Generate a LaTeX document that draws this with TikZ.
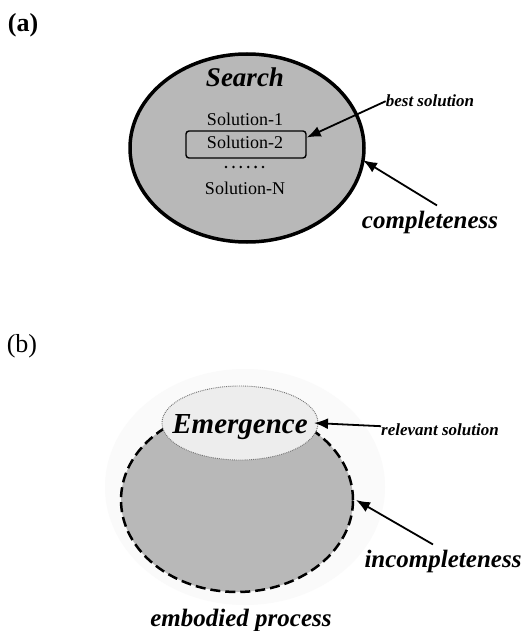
\documentclass[tikz,border=0pt]{standalone}
\usepackage{fontspec}
\setmainfont{Liberation Serif}
\usetikzlibrary{shapes.geometric,arrows.meta}
\begin{document}
\begin{tikzpicture}[x=1pt,y=-1pt,
  lbl/.style={inner sep=0pt,anchor=base,font=\fontsize{26}{28}\selectfont},
  bigbi/.style={inner sep=0pt,anchor=base,font=\fontsize{25}{28}\selectfont\bfseries\itshape},
  smallbi/.style={inner sep=0pt,anchor=base,font=\fontsize{17}{19}\selectfont\bfseries\itshape},
  soltext/.style={inner sep=0pt,anchor=base,font=\fontsize{18}{20}\selectfont},
  arr/.style={line width=1.8pt,-{Latex[length=14pt,width=11pt]}},
  oval/.style={ellipse,inner sep=0pt,outer sep=0pt},
  dotmark/.style={circle,fill=black,inner sep=0pt,minimum size=2.8pt}
]
\useasboundingbox (0,0) rectangle (524,631);
\fill[white] (0,0) rectangle (524,631);

% ---------- (a) ----------
\node[lbl,font=\fontsize{26}{28}\selectfont\bfseries] (la) at (23,32) {(a)};
\node[oval,draw,line width=3.5pt,fill=black!28,minimum width=234pt,minimum height=188pt] (ellA) at (247,148) {};
\node[inner sep=0pt,anchor=base,font=\fontsize{27}{30}\selectfont\bfseries\itshape] (search) at (245,87) {Search};
\node[soltext] (s1) at (245,126) {Solution-1};
\node[draw,line width=1.4pt,rounded corners=3pt,minimum width=120pt,minimum height=27pt,inner sep=0pt] (box) at (246,144.5) {};
\node[soltext] (s2) at (245,148.5) {Solution-2};
\foreach \i/\xx in {1/226,2/233.4,3/240.8,4/248.2,5/255.6,6/263}
  \node[dotmark] (d\i) at (\xx,167) {};
\node[soltext] (sn) at (245,194) {Solution-N};
\node[smallbi] (best) at (430,107) {best solution};
\node[bigbi] (comp) at (430,228) {completeness};
\draw[arr] (best.west) -- ([yshift=7pt]box.east);
\draw[arr] ([shift={(7pt,5pt)}]comp.north) -- (ellA.-6);

% ---------- (b) ----------
\node[lbl] (lb) at (22,352) {(b)};
\fill[black!2] (245,487) ellipse [x radius=140, y radius=118];
\node[oval,draw,dash pattern=on 10pt off 5pt,line width=2.5pt,fill=black!28,minimum width=232pt,minimum height=184pt] (body) at (237,500) {};
\node[oval,draw=black!55,densely dotted,line width=0.9pt,fill=black!7,minimum width=156pt,minimum height=74pt] (emer) at (240,423) {};
\node[inner sep=0pt,anchor=base,font=\fontsize{29}{32}\selectfont\bfseries\itshape] (emtext) at (240,433) {Emergence};
\node[smallbi] (rel) at (440,435) {relevant solution};
\node[bigbi] (inc) at (443,567) {incompleteness};
\node[bigbi] (emb) at (241,626) {embodied process};
\draw[arr] ([yshift=3pt]rel.west) -- ([xshift=-4pt]emer.east);
\draw[arr] ([shift={(-10pt,5pt)}]inc.north) -- ([xshift=3pt]body.east);
\end{tikzpicture}
\end{document}
